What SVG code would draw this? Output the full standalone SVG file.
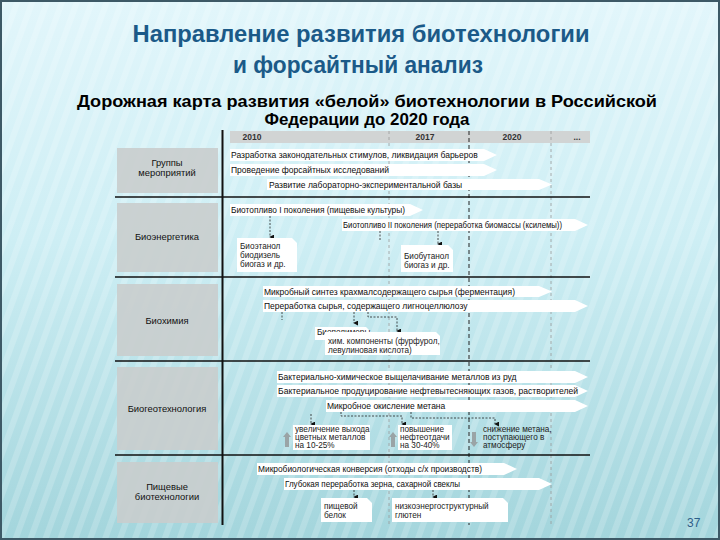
<svg xmlns="http://www.w3.org/2000/svg" width="720" height="540" viewBox="0 0 720 540">
<defs>
<linearGradient id="bg" x1="0" y1="0" x2="0" y2="1">
<stop offset="0" stop-color="#e2f6fb"/>
<stop offset="0.45" stop-color="#cdeef4"/>
<stop offset="1" stop-color="#a3d5dc"/>
</linearGradient>
<pattern id="stripes" width="14" height="14" patternUnits="userSpaceOnUse" patternTransform="rotate(20)">
<rect width="6" height="14" fill="#ffffff" opacity="0.18"/>
</pattern>
<linearGradient id="rule" x1="0" y1="0" x2="1" y2="0">
<stop offset="0" stop-color="#5a9ac0" stop-opacity="0"/>
<stop offset="0.15" stop-color="#5a9ac0"/>
<stop offset="1" stop-color="#3f7fa8"/>
</linearGradient>
<marker id="ah" viewBox="0 0 6 6" refX="3" refY="5" markerWidth="5" markerHeight="5" orient="auto-start-reverse" markerUnits="userSpaceOnUse">
<path d="M0,0 L6,0 L3,6 Z" fill="#111"/>
</marker>
<style>
.title{font-family:"Liberation Sans",Arial,sans-serif;font-size:23px;font-weight:bold;fill:#1b5a88;text-anchor:middle}
.sub{font-family:"Liberation Sans",Arial,sans-serif;font-size:16.5px;font-weight:bold;fill:#000;text-anchor:middle}
.lbl{font-family:"Liberation Sans",Arial,sans-serif;font-size:9.4px;fill:#111;text-anchor:middle}
.yr{font-family:"Liberation Sans",Arial,sans-serif;font-size:8.5px;font-weight:bold;fill:#333;text-anchor:middle}
.t{font-family:"Liberation Sans",Arial,sans-serif;font-size:8.5px;fill:#0d0d0d}
.c{font-family:"Liberation Sans",Arial,sans-serif;font-size:8.2px;fill:#222}
.gbox{fill:#c9cdcd;opacity:0.9}
.arr{fill:#ffffff}
.cb{fill:#ffffff}
.sep{stroke:#111;stroke-width:1.6}
.vd{stroke:#999;stroke-width:0.8;stroke-dasharray:3,3}
.vk{stroke:#222;stroke-width:1;stroke-dasharray:4,3}
.dl{fill:none;stroke:#222;stroke-width:0.8;stroke-dasharray:2,1.5}
.up{fill:#9aa4a6}
</style>
</defs>
<rect width="720" height="540" fill="url(#bg)"/>
<rect width="720" height="540" fill="url(#stripes)"/>
<rect x="1" y="1" width="718" height="538" fill="none" stroke="#3d5966" stroke-width="2"/>

<g id="title">
<text class="title" x="361" y="42" textLength="457" lengthAdjust="spacingAndGlyphs">Направление развития биотехнологии</text>
<text class="title" x="358" y="73" textLength="250" lengthAdjust="spacingAndGlyphs">и форсайтный анализ</text>
<line x1="45" y1="83" x2="720" y2="83" stroke="url(#rule)" stroke-width="1.5"/>
<text class="sub" x="367" y="107" textLength="580" lengthAdjust="spacingAndGlyphs">Дорожная карта развития «белой» биотехнологии в Российской</text>
<text class="sub" x="367" y="125" textLength="205" lengthAdjust="spacingAndGlyphs">Федерации до 2020 года</text>
</g>

<g id="grid">
<rect x="230" y="131" width="360" height="12" fill="#d1d4d4"/>
<text class="yr" x="252" y="140">2010</text>
<text class="yr" x="425" y="140">2017</text>
<text class="yr" x="512" y="140">2020</text>
<text class="yr" x="577" y="140">...</text>
<line class="vd" x1="389" y1="131" x2="389" y2="525"/>
<line class="vk" x1="469" y1="131" x2="469" y2="525"/>
<line class="vd" x1="551" y1="131" x2="551" y2="525"/>
<line x1="222.5" y1="130" x2="222.5" y2="525" stroke="#111" stroke-width="2"/>
<line class="sep" x1="115" y1="197" x2="590" y2="197"/>
<line class="sep" x1="115" y1="277" x2="590" y2="277"/>
<line class="sep" x1="115" y1="361" x2="590" y2="361"/>
<line class="sep" x1="115" y1="455" x2="590" y2="455"/>
</g>

<g id="g1">
<rect class="gbox" x="117" y="148" width="101" height="45"/>
<text class="lbl" x="167" y="166">Группы</text>
<text class="lbl" x="167" y="176">мероприятий</text>
</g>
<g id="g2">
<rect class="gbox" x="117" y="203" width="101" height="69"/>
<text class="lbl" x="167" y="240">Биоэнергетика</text>
</g>
<g id="g3">
<rect class="gbox" x="117" y="284" width="101" height="72"/>
<text class="lbl" x="167" y="324">Биохимия</text>
</g>
<g id="g4">
<rect class="gbox" x="117" y="367" width="101" height="83"/>
<text class="lbl" x="167" y="412">Биогеотехнология</text>
</g>
<g id="g5">
<rect class="gbox" x="117" y="462" width="101" height="61"/>
<text class="lbl" x="167" y="490">Пищевые</text>
<text class="lbl" x="167" y="500">биотехнологии</text>
</g>

<g id="bars">
<g id="a1"><path class="arr" d="M230,149 H484 L497,155 L484,161 H230 Z"/><text class="t" x="231" y="158">Разработка законодательных стимулов, ликвидация барьеров</text></g>
<g id="a2"><path class="arr" d="M230,164 H484 L497,170 L484,176 H230 Z"/><text class="t" x="231" y="173">Проведение форсайтных исследований</text></g>
<g id="a3"><path class="arr" d="M267,179 H539 L552,184.5 L539,190 H267 Z"/><text class="t" x="269" y="187.5">Развитие лабораторно-экспериментальной базы</text></g>
<g id="a4"><path class="arr" d="M230,204 H410 L423,210 L410,216 H230 Z"/><text class="t" x="231" y="213" textLength="174" lengthAdjust="spacingAndGlyphs">Биотопливо I поколения (пищевые культуры)</text></g>
<g id="a5"><path class="arr" d="M342,219 H575 L588,225 L575,231 H342 Z"/><text class="t" x="343" y="228" textLength="219" lengthAdjust="spacingAndGlyphs">Биотопливо II поколения (переработка биомассы (ксилемы))</text></g>
<g id="a6"><path class="arr" d="M263,286 H539 L552,291.5 L539,297 H263 Z"/><text class="t" x="264" y="294.5">Микробный синтез крахмалсодержащего сырья (ферментация)</text></g>
<g id="a7"><path class="arr" d="M263,300 H575 L588,306 L575,312 H263 Z"/><text class="t" x="264" y="309">Переработка сырья, содержащего лигноцеллюлозу</text></g>
<g id="a8"><path class="arr" d="M277,371 H575 L588,377 L575,383 H277 Z"/><text class="t" x="278" y="380">Бактериально-химическое выщелачивание металлов из руд</text></g>
<g id="a9"><path class="arr" d="M277,385 H575 L588,391 L575,397 H277 Z"/><text class="t" x="278" y="394" textLength="300" lengthAdjust="spacingAndGlyphs">Бактериальное продуцирование нефтевытесняющих газов, растворителей</text></g>
<g id="a10"><path class="arr" d="M326,400 H575 L588,406 L575,412 H326 Z"/><text class="t" x="327" y="409">Микробное окисление метана</text></g>
<g id="a11"><path class="arr" d="M257,463 H504 L517,469 L504,475 H257 Z"/><text class="t" x="258" y="472" textLength="224" lengthAdjust="spacingAndGlyphs">Микробиологическая конверсия (отходы с/х производств)</text></g>
<g id="a12"><path class="arr" d="M284,478 H539 L552,484 L539,490 H284 Z"/><text class="t" x="285" y="487" textLength="175" lengthAdjust="spacingAndGlyphs">Глубокая переработка зерна, сахарной свеклы</text></g>
</g>

<g id="connectors">
<line class="dl" x1="270" y1="216" x2="270" y2="237" marker-end="url(#ah)"/>
<line class="dl" x1="380" y1="231" x2="380" y2="240"/>
<line class="dl" x1="438" y1="231" x2="438" y2="244" marker-end="url(#ah)"/>
<line class="dl" x1="282" y1="312" x2="282" y2="320"/>
<line class="dl" x1="354" y1="312" x2="354" y2="323" marker-end="url(#ah)"/>
<path class="dl" d="M368,312 V317 H397 V331" marker-end="url(#ah)"/>
<line class="dl" x1="311" y1="414" x2="311" y2="424" marker-end="url(#ah)"/>
<path class="dl" d="M341,412 V416 H402 V424" marker-end="url(#ah)"/>
<path class="dl" d="M411,412 V418 H495 V424" marker-end="url(#ah)"/>
<line class="dl" x1="354" y1="490" x2="354" y2="497" marker-end="url(#ah)"/>
<line class="dl" x1="433" y1="490" x2="433" y2="497" marker-end="url(#ah)"/>
</g>

<g id="n-bioethanol">
<path class="cb" d="M237,238 H292 L297,243 V272 H237 Z"/>
<text class="c" x="240" y="249">Биоэтанол</text>
<text class="c" x="240" y="258">биодизель</text>
<text class="c" x="240" y="267">биогаз и др.</text>
</g>
<g id="n-biobutanol">
<path class="cb" d="M401,245 H448 L453,250 V272 H401 Z"/>
<text class="c" x="404" y="259">Биобутанол</text>
<text class="c" x="404" y="268">биогаз и др.</text>
</g>
<g id="n-biopolymers">
<path class="cb" d="M315,327 H366 L371,332 V340 H315 Z"/>
<text class="c" x="317" y="335">Биополимеры</text>
</g>
<g id="n-chem">
<path class="cb" d="M325,332 H436 L440,336 V355 H325 Z"/>
<text class="c" x="328" y="344">хим. компоненты (фурфурол,</text>
<text class="c" x="328" y="353">левулиновая кислота)</text>
</g>
<g id="n-metals">
<rect class="cb" x="293" y="425" width="77" height="25"/>
<path class="up" d="M287,432 L291,437 H289 V447 H285 V437 H283 Z"/>
<text class="c" x="295" y="432">увеличение выхода</text>
<text class="c" x="295" y="440">цветных металлов</text>
<text class="c" x="295" y="448">на 10-25%</text>
</g>
<g id="n-oil">
<rect class="cb" x="398" y="425" width="54" height="25"/>
<path class="up" d="M393,432 L397,437 H395 V447 H391 V437 H389 Z"/>
<text class="c" x="400" y="432">повышение</text>
<text class="c" x="400" y="440">нефтеотдачи</text>
<text class="c" x="400" y="448">на 30-40%</text>
</g>
<g id="n-methane">
<path class="up" d="M474,447 L478,442 H476 V432 H472 V442 H470 Z"/>
<text class="c" x="483" y="432">снижение метана,</text>
<text class="c" x="483" y="440">поступающего в</text>
<text class="c" x="483" y="448">атмосферу</text>
</g>
<g id="n-protein">
<path class="cb" d="M321,498 H367 L372,503 V522 H321 Z"/>
<text class="c" x="324" y="509">пищевой</text>
<text class="c" x="324" y="518">белок</text>
</g>
<g id="n-gluten">
<path class="cb" d="M392,498 H503 L508,503 V522 H392 Z"/>
<text class="c" x="395" y="509">низкоэнергоструктурный</text>
<text class="c" x="395" y="518">глютен</text>
</g>

<text x="687" y="527" font-family="Liberation Sans, Arial, sans-serif" font-size="12" fill="#2e5f8a">37</text>
</svg>
